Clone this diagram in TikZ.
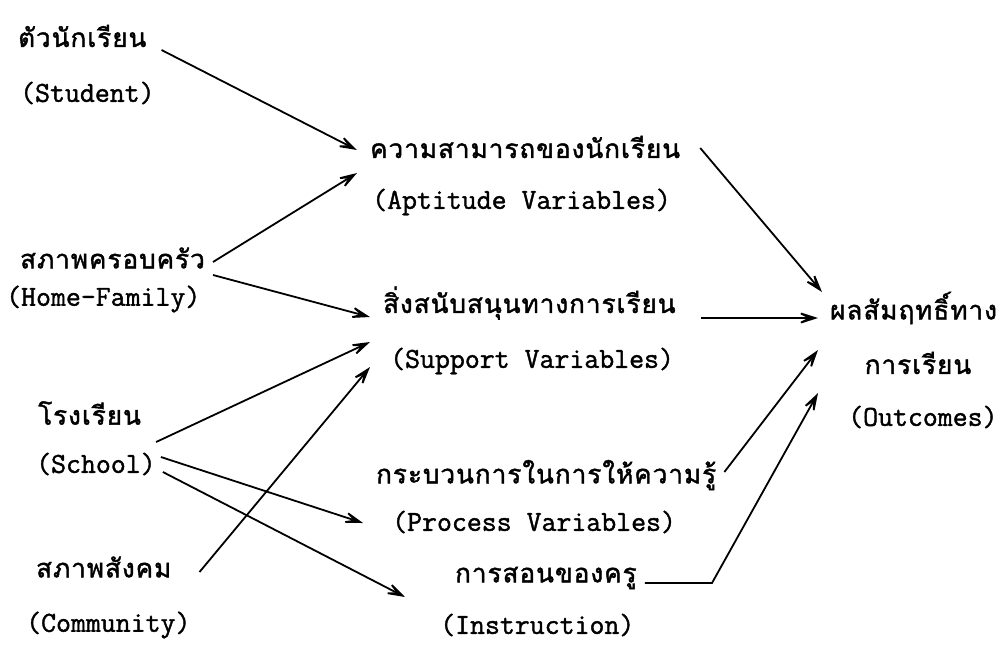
\documentclass[tikz,border=0pt]{standalone}
\usepackage{fontspec}
\newfontfamily\thaifont[Script=Thai,FakeBold=1.6,LetterSpace=4]{Loma}
\newfontfamily\enfont[FakeBold=1.4]{Latin Modern Mono}
\usetikzlibrary{arrows.meta}

\tikzset{
  thlabel/.style={anchor=west, inner sep=0pt, font=\thaifont\fontsize{26}{30}\selectfont},
  enlabel/.style={anchor=west, inner sep=0pt, font=\enfont\fontsize{29}{32}\selectfont},
  arr/.style={line width=1.8pt, -{Stealth[length=28pt,width=18pt,inset=18pt]}},
}

\begin{document}
\begin{tikzpicture}[x=1pt,y=-1pt]
    \useasboundingbox (0,0) rectangle (1006,651);

    % sources
    \node[thlabel] (studentTH) at (18,36) {ตัวนักเรียน};
    \node[enlabel] (studentEN) at (20,93) {(Student)};
    \node[thlabel] (homeTH) at (20,258) {สภาพครอบครัว};
    \node[enlabel] (homeEN) at (6,299) {(Home-Family)};
    \node[thlabel] (schoolTH) at (38,413) {โรงเรียน};
    \node[enlabel] (schoolEN) at (36,464) {(School)};
    \node[thlabel] (commTH) at (36,567) {สภาพสังคม};
    \node[enlabel] (commEN) at (26,625) {(Community)};

    % variables
    \node[thlabel] (aptTH) at (370,147) {ความสามารถของนักเรียน};
    \node[enlabel] (aptEN) at (372,202) {(Aptitude Variables)};
    \node[thlabel] (supTH) at (383,303) {สิ่งสนับสนุนทางการเรียน};
    \node[enlabel] (supEN) at (390,361) {(Support Variables)};
    \node[thlabel] (procTH) at (376,475) {กระบวนการในการให้ความรู้};
    \node[enlabel] (procEN) at (392,522) {(Process Variables)};
    \node[thlabel] (instTH) at (455,578) {การสอนของครู};
    \node[enlabel] (instEN) at (440,625) {(Instruction)};

    % outcomes
    \node[thlabel] (outTH) at (830,308) {ผลสัมฤทธิ์ทาง};
    \node[thlabel, anchor=center] (outTHb) at (918,363) {การเรียน};
    \node[enlabel] (outEN) at (848,417) {(Outcomes)};

    \coordinate (instcorner) at (712,583);

    \draw[arr] ([xshift=15pt,yshift=-14pt]studentTH.east) -- ([xshift=-13pt,yshift=-3pt]aptTH.west);
    \draw[arr] ([xshift=8pt,yshift=-4pt]homeTH.east) -- ([xshift=-13pt,yshift=-26pt]aptTH.west);
    \draw[arr] ([xshift=8pt,yshift=-17pt]homeTH.east) -- ([xshift=-13pt,yshift=-14pt]supTH.west);
    \draw[arr] ([xshift=15pt,yshift=-29pt]schoolTH.east) -- ([xshift=-20pt,yshift=19pt]supEN.west);
    \draw[arr] ([xshift=28pt,yshift=-5pt]commTH.east) -- ([xshift=-20pt,yshift=-6pt]supEN.west);
    \draw[arr] ([xshift=5pt,yshift=7pt]schoolEN.east) -- ([xshift=-29pt,yshift=-1pt]procEN.west);
    \draw[arr] ([xshift=7pt,yshift=-8pt]schoolEN.east) -- ([xshift=-50pt,yshift=-19pt]instTH.west);

    \draw[arr] ([xshift=20pt,yshift=-1pt]aptTH.east) -- ([xshift=-8pt,yshift=16pt]outTH.west);
    \draw[arr] ([xshift=25pt,yshift=-15pt]supTH.east) -- ([xshift=-12pt,yshift=-10pt]outTH.west);
    \draw[arr] ([xshift=8pt,yshift=3pt]procTH.east) -- ([xshift=-12pt,yshift=-42pt]outTH.west);
    \draw[arr] ([xshift=8pt,yshift=-5pt]instTH.east) -- (instcorner) -- ([xshift=-30pt,yshift=24pt]outEN.west);
\end{tikzpicture}
\end{document}
